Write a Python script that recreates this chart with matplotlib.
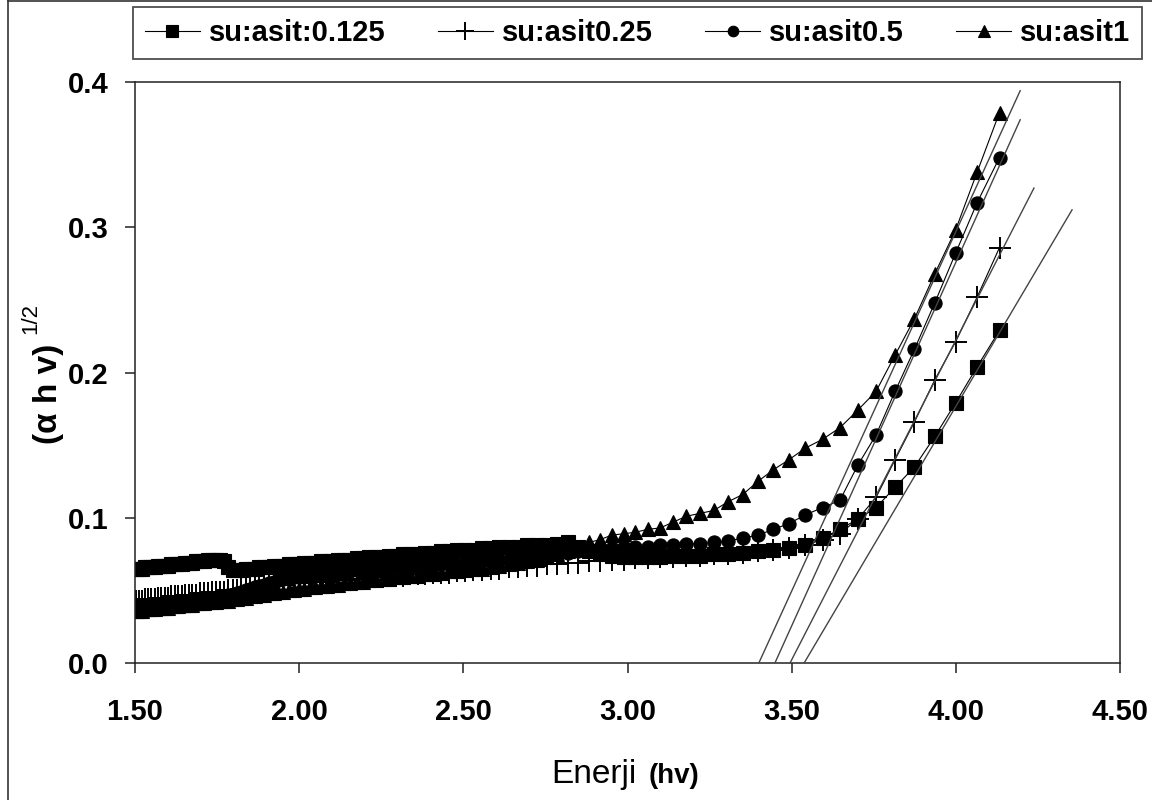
import matplotlib
matplotlib.use('Agg')
import matplotlib.pyplot as plt
from matplotlib.lines import Line2D

plt.rcParams['font.family'] = ['Liberation Sans', 'DejaVu Sans']

# Photon energy (eV) of every measured point, shared by all series
energy = [1.503, 1.512, 1.521, 1.531, 1.540, 1.550, 1.560, 1.569, 1.579, 1.590,
          1.600, 1.610, 1.621, 1.631, 1.642, 1.653, 1.664, 1.675, 1.687, 1.698,
          1.710, 1.722, 1.734, 1.746, 1.759, 1.771, 1.784, 1.797, 1.810, 1.823,
          1.837, 1.850, 1.864, 1.879, 1.893, 1.907, 1.922, 1.937, 1.952, 1.968,
          1.984, 2.000, 2.016, 2.032, 2.049, 2.066, 2.084, 2.101, 2.119, 2.138,
          2.156, 2.175, 2.194, 2.214, 2.234, 2.254, 2.275, 2.296, 2.317, 2.339,
          2.362, 2.384, 2.407, 2.431, 2.455, 2.480, 2.505, 2.530, 2.556, 2.583,
          2.610, 2.638, 2.666, 2.695, 2.725, 2.755, 2.786, 2.818, 2.850, 2.883,
          2.917, 2.952, 2.988, 3.024, 3.061, 3.100, 3.139, 3.179, 3.220, 3.263,
          3.306, 3.351, 3.397, 3.444, 3.492, 3.542, 3.594, 3.647, 3.701, 3.757,
          3.815, 3.874, 3.936, 3.999, 4.065, 4.133]

# (alpha h v)^(1/2) for each ratio
y_0125 = [0.065, 0.065, 0.065, 0.066, 0.066, 0.066, 0.066, 0.067, 0.067, 0.067,
          0.067, 0.068, 0.068, 0.068, 0.068, 0.069, 0.069, 0.069, 0.070, 0.070,
          0.070, 0.071, 0.071, 0.071, 0.071, 0.070, 0.066, 0.064, 0.064, 0.064,
          0.065, 0.065, 0.065, 0.066, 0.066, 0.066, 0.067, 0.067, 0.067, 0.068,
          0.068, 0.068, 0.069, 0.069, 0.069, 0.070, 0.070, 0.070, 0.071, 0.071,
          0.071, 0.072, 0.072, 0.073, 0.073, 0.073, 0.074, 0.074, 0.075, 0.075,
          0.075, 0.076, 0.076, 0.077, 0.077, 0.078, 0.078, 0.078, 0.079, 0.079,
          0.080, 0.080, 0.080, 0.081, 0.081, 0.081, 0.082, 0.083, 0.080, 0.077,
          0.075, 0.074, 0.073, 0.073, 0.073, 0.073, 0.074, 0.074, 0.074, 0.075,
          0.075, 0.076, 0.077, 0.078, 0.079, 0.081, 0.086, 0.092, 0.099, 0.107,
          0.121, 0.135, 0.156, 0.179, 0.204, 0.229]

y_025 = [0.043, 0.043, 0.043, 0.044, 0.044, 0.044, 0.044, 0.045, 0.045, 0.045,
         0.045, 0.046, 0.046, 0.046, 0.046, 0.047, 0.047, 0.047, 0.047, 0.048,
         0.048, 0.048, 0.049, 0.049, 0.049, 0.049, 0.050, 0.050, 0.050, 0.051,
         0.051, 0.052, 0.052, 0.053, 0.053, 0.053, 0.054, 0.054, 0.054, 0.055,
         0.055, 0.055, 0.055, 0.056, 0.056, 0.056, 0.056, 0.057, 0.057, 0.057,
         0.058, 0.058, 0.058, 0.059, 0.059, 0.059, 0.060, 0.060, 0.060, 0.061,
         0.061, 0.061, 0.062, 0.062, 0.062, 0.063, 0.063, 0.064, 0.064, 0.065,
         0.065, 0.066, 0.066, 0.067, 0.067, 0.068, 0.068, 0.069, 0.069, 0.070,
         0.070, 0.071, 0.071, 0.072, 0.072, 0.073, 0.073, 0.074, 0.074, 0.075,
         0.075, 0.076, 0.077, 0.078, 0.079, 0.081, 0.085, 0.089, 0.099, 0.114,
         0.140, 0.166, 0.195, 0.221, 0.252, 0.286]

y_05 = [0.038, 0.038, 0.038, 0.039, 0.039, 0.039, 0.040, 0.040, 0.040, 0.041,
        0.041, 0.041, 0.042, 0.042, 0.042, 0.043, 0.043, 0.043, 0.044, 0.044,
        0.044, 0.045, 0.045, 0.045, 0.046, 0.046, 0.047, 0.047, 0.048, 0.049,
        0.050, 0.051, 0.052, 0.053, 0.054, 0.055, 0.056, 0.057, 0.058, 0.058,
        0.059, 0.059, 0.060, 0.060, 0.061, 0.061, 0.062, 0.062, 0.063, 0.063,
        0.063, 0.064, 0.064, 0.064, 0.065, 0.065, 0.065, 0.066, 0.066, 0.066,
        0.067, 0.067, 0.067, 0.068, 0.068, 0.068, 0.069, 0.069, 0.070, 0.070,
        0.071, 0.071, 0.072, 0.072, 0.073, 0.074, 0.075, 0.076, 0.077, 0.078,
        0.079, 0.079, 0.080, 0.080, 0.080, 0.081, 0.081, 0.082, 0.082, 0.083,
        0.084, 0.086, 0.088, 0.092, 0.096, 0.102, 0.107, 0.112, 0.136, 0.157,
        0.187, 0.216, 0.248, 0.282, 0.317, 0.348]

y_1 = [0.036, 0.036, 0.036, 0.037, 0.037, 0.037, 0.037, 0.038, 0.038, 0.038,
       0.038, 0.039, 0.039, 0.039, 0.040, 0.040, 0.040, 0.040, 0.041, 0.041,
       0.041, 0.042, 0.042, 0.042, 0.043, 0.043, 0.043, 0.044, 0.044, 0.045,
       0.045, 0.046, 0.046, 0.047, 0.047, 0.048, 0.048, 0.049, 0.049, 0.050,
       0.050, 0.051, 0.051, 0.052, 0.052, 0.053, 0.053, 0.054, 0.054, 0.055,
       0.055, 0.056, 0.056, 0.057, 0.057, 0.058, 0.058, 0.059, 0.059, 0.060,
       0.060, 0.061, 0.061, 0.062, 0.063, 0.063, 0.064, 0.065, 0.065, 0.066,
       0.067, 0.068, 0.069, 0.070, 0.071, 0.073, 0.075, 0.077, 0.080, 0.083,
       0.085, 0.088, 0.089, 0.090, 0.092, 0.093, 0.097, 0.101, 0.103, 0.105,
       0.111, 0.116, 0.125, 0.133, 0.140, 0.148, 0.154, 0.162, 0.174, 0.187,
       0.212, 0.237, 0.268, 0.298, 0.338, 0.379]

labels = ['su:asit:0.125', 'su:asit0.25', 'su:asit0.5', 'su:asit1']
markers = ['s', '+', 'o', '^']
marker_sizes = [10, 16, 9.5, 10.5]

# linear fits: x-intercept (band gap) and upper end of each drawn line
band_gap = [3.538, 3.495, 3.449, 3.400]
fit_end_x = [4.354, 4.238, 4.196, 4.196]
fit_end_y = [0.312, 0.327, 0.374, 0.394]

W, H = 1152, 800
fig = plt.figure(figsize=(W / 100, H / 100), dpi=100)
ax = fig.add_axes([135 / W, 1 - 663 / H, (1120 - 135) / W, (663 - 82) / H])

handles = []
for ys, mk, ms, lab in zip([y_0125, y_025, y_05, y_1], markers, marker_sizes, labels):
    h, = ax.plot(energy, ys, color='black', lw=0.8, marker=mk, ms=ms,
                 mfc='black', mec='black', mew=1.4 if mk == '+' else 0.8, label=lab)
    handles.append(h)

for eg, xe, ye in zip(band_gap, fit_end_x, fit_end_y):
    ax.plot([eg, xe], [0, ye], color='#444444', lw=1.0, zorder=5)

x_ticks = [1.5, 2.0, 2.5, 3.0, 3.5, 4.0, 4.5]
y_ticks = [0.0, 0.1, 0.2, 0.3, 0.4]
ax.set_xlim(1.5, 4.5)
ax.set_ylim(0, 0.4)
ax.set_xticks(x_ticks)
ax.set_xticklabels([f'{t:.2f}' for t in x_ticks], fontsize=21, fontweight='bold')
ax.set_yticks(y_ticks)
ax.set_yticklabels([f'{t:.1f}' for t in y_ticks], fontsize=21, fontweight='bold')
ax.tick_params(axis='both', direction='out', length=7, width=1.1, color='#222222')
ax.tick_params(axis='x', pad=18)
ax.tick_params(axis='y', pad=12)
for sp in ax.spines.values():
    sp.set_linewidth(1.1)
    sp.set_color('#222222')

# axis titles
fig.text(637 / W, 1 - 783 / H, 'Enerji', ha='right', va='baseline', fontsize=24)
fig.text(649 / W, 1 - 783 / H, '(hv)', ha='left', va='baseline', fontsize=20, fontweight='bold')
fig.text(48 / W, 1 - 394 / H, '(α h v)', rotation=90, ha='center', va='center',
         fontsize=24, fontweight='bold')
fig.text(31 / W, 1 - 318 / H, '1/2', rotation=90, ha='center', va='center', fontsize=16)

leg = fig.legend(handles, labels, loc='center', ncol=4, mode='expand',
                 bbox_to_anchor=(133 / W, 1 - 63 / H, (1142 - 133) / W, 60 / H),
                 prop={'weight': 'bold', 'size': 21}, frameon=True,
                 fancybox=False, edgecolor='#222222', borderaxespad=0,
                 handlelength=1.9, handletextpad=0.3, markerscale=0.8)
leg.get_frame().set_linewidth(1.3)

# outer chart border
fig.add_artist(Line2D([8 / W, 8 / W], [0, 1], color='#333333', lw=1.2))
fig.add_artist(Line2D([8 / W, 1], [1 - 1 / H, 1 - 1 / H], color='#333333', lw=1.2))

fig.savefig('out.png', dpi=100, facecolor='white')
